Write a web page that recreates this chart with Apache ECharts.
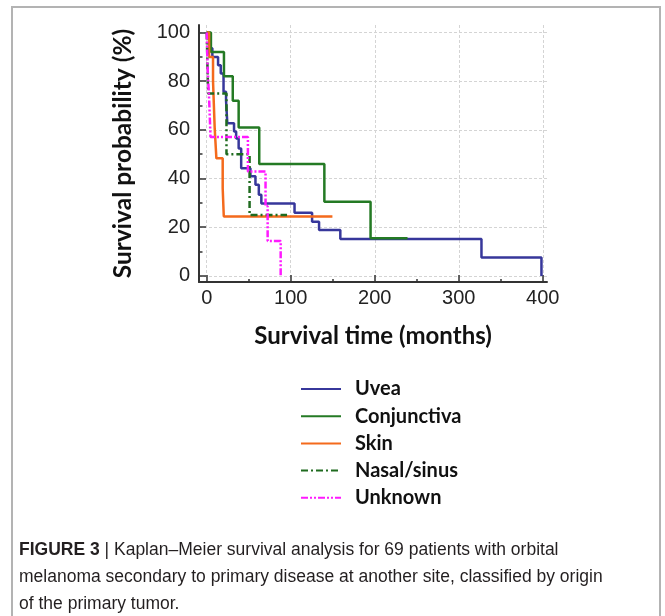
<!DOCTYPE html>
<html>
<head>
<meta charset="utf-8">
<script src="https://cdn.jsdelivr.net/npm/echarts@6/dist/echarts.min.js"></script>
<style>
  html, body { margin: 0; padding: 0; background: #fff; }
  #chart { width: 665px; height: 616px; }
</style>
</head>
<body>
<div id="chart"></div>
<script>
// ---- Data (time in months, survival in %) ----
const seriesNames = ['Uvea', 'Conjunctiva', 'Skin', 'Nasal/sinus', 'Unknown'];

const uveaTime = [0, 2.8, 6.7, 13.5, 16.7, 20, 23, 24.5, 32.5, 35, 38, 41, 52, 58, 62, 65, 104.5, 125.4, 133.7, 159, 327, 398.4];
const uveaSurv = [100, 93.5, 90, 86.6, 83.2, 75.7, 72, 62.7, 59.3, 56.5, 52.4, 44.2, 41, 37.5, 33.3, 29.8, 26, 22.3, 18.9, 15.2, 7.6, 0];

const conjTime = [0, 5, 20.5, 31, 38, 62.5, 140, 195, 239];
const conjSurv = [100, 92, 82, 72, 61, 46, 30.5, 15.5, 15.5];

const skinTime = [0, 2.8, 7.5, 9.5, 11.5, 19, 20.3, 149.6];
const skinSurv = [100, 90, 80, 60.5, 48.3, 36, 24.4, 24.4];

const nasalTime = [0, 1.6, 23.5, 51, 95.6];
const nasalSurv = [100, 75, 50, 25, 25];

const unknownTime = [0, 1, 3, 4.5, 49, 70, 72.5, 88];
const unknownSurv = [100, 85.7, 71.4, 57.1, 42.9, 28.6, 14.3, 0];

const xMajorTicks = [0, 100, 200, 300, 400];
const xMinorTicks = [50, 150, 250, 350];
const yMajorTicks = [0, 20, 40, 60, 80, 100];
const yMinorTicks = [10, 30, 50, 70, 90];
const xRange = [-9.2, 405];
const yRange = [-2.5, 103.1];

const xTitle = 'Survival time (months)';
const yTitle = 'Survival probability (%)';
const captionBold = 'FIGURE 3';
const captionRest = ' | Kaplan\u2013Meier survival analysis for 69 patients with orbital\nmelanoma secondary to primary disease at another site, classified by origin\nof the primary tumor.';

// ---- Build ----
function pairs(t, s) { return t.map((v, i) => [v, s[i]]); }

const styles = [
  { color: '#37379b', type: 'solid' },
  { color: '#247a24', type: 'solid' },
  { color: '#f46a1c', type: 'solid' },
  { color: '#1f6b1f', type: [7, 3, 2, 3] },
  { color: '#ff1aff', type: [7, 2, 2, 2, 2, 2] }
];
const dataSets = [
  pairs(uveaTime, uveaSurv),
  pairs(conjTime, conjSurv),
  pairs(skinTime, skinSurv),
  pairs(nasalTime, nasalSurv),
  pairs(unknownTime, unknownSurv)
];

const series = seriesNames.map((name, i) => ({
  name: name,
  type: 'line',
  step: 'end',
  xAxisIndex: 0,
  yAxisIndex: 0,
  symbol: 'none',
  showSymbol: false,
  animation: false,
  data: dataSets[i],
  lineStyle: { color: styles[i].color, width: 2.5, type: styles[i].type },
  itemStyle: { color: styles[i].color },
  z: 3 + i
}));

const chart = echarts.init(document.getElementById('chart'), null, { renderer: 'canvas' });

const tickLine = { color: '#333', width: 1.5 };
const labelFont = { color: '#222', fontFamily: 'Liberation Sans', fontSize: 20 };
const gridLine = { color: '#d4d4d4', width: 1, type: [3, 2] };
const titleFont = { fontFamily: 'Lato', fontWeight: 'bold', fontSize: 24, color: '#111' };

chart.setOption({
  animation: false,
  backgroundColor: '#fff',
  grid: { left: 199, right: 118, top: 25, bottom: 334, containLabel: false },
  xAxis: [
    { type: 'value', position: 'bottom', min: xRange[0], max: xRange[1],
      axisLine: { show: true, onZero: false, lineStyle: { color: '#333', width: 2 } },
      axisTick: { show: true, inside: true, length: 7, customValues: xMajorTicks, lineStyle: tickLine },
      axisLabel: Object.assign({ show: true, margin: 6, customValues: xMajorTicks }, labelFont),
      splitLine: { show: true, lineStyle: gridLine },
      name: xTitle, nameLocation: 'middle', nameGap: 42, nameTextStyle: titleFont
    },
    { type: 'value', position: 'bottom', min: xRange[0], max: xRange[1],
      axisLine: { show: false, onZero: false },
      axisTick: { show: true, inside: true, length: 3, customValues: xMinorTicks, lineStyle: tickLine },
      axisLabel: { show: false, customValues: xMinorTicks },
      splitLine: { show: false }
    }
  ],
  yAxis: [
    { type: 'value', position: 'left', min: yRange[0], max: yRange[1],
      axisLine: { show: true, onZero: false, lineStyle: { color: '#333', width: 2 } },
      axisTick: { show: true, inside: true, length: 7, customValues: yMajorTicks, lineStyle: tickLine },
      axisLabel: Object.assign({ show: true, margin: 9, customValues: yMajorTicks }, labelFont),
      splitLine: { show: true, lineStyle: gridLine },
      name: yTitle, nameLocation: 'middle', nameGap: 63,
      nameTextStyle: Object.assign({}, titleFont, { fontSize: 24.5 })
    },
    { type: 'value', position: 'left', min: yRange[0], max: yRange[1],
      axisLine: { show: false, onZero: false },
      axisTick: { show: true, inside: true, length: 3.5, customValues: yMinorTicks, lineStyle: tickLine },
      axisLabel: { show: false, customValues: yMinorTicks },
      splitLine: { show: false }
    }
  ],
  legend: {
    orient: 'vertical',
    left: 300,
    top: 379,
    padding: 0,
    itemWidth: 40,
    itemHeight: 12,
    itemGap: 7.2,
    data: seriesNames,
    itemStyle: { opacity: 0 },
    textStyle: { fontFamily: 'Lato', fontWeight: 'bold', fontSize: 20, color: '#111', lineHeight: 20, padding: [0, 0, 0, 9] }
  },
  graphic: [
    { type: 'rect', silent: true, shape: { x: 12, y: 7, width: 648, height: 640 },
      style: { fill: 'none', stroke: '#b3b3b3', lineWidth: 2 } },
    { type: 'text', silent: true, left: 19, top: 537,
      style: {
        text: '{b|' + captionBold + '}' + captionRest,
        fontFamily: 'Liberation Sans', fontSize: 17.5, lineHeight: 27, fill: '#231f20',
        rich: { b: { fontFamily: 'Liberation Sans', fontWeight: 'bold', fontSize: 17.5, lineHeight: 27, fill: '#231f20' } }
      } }
  ],
  series: series
});
</script>
</body>
</html>
